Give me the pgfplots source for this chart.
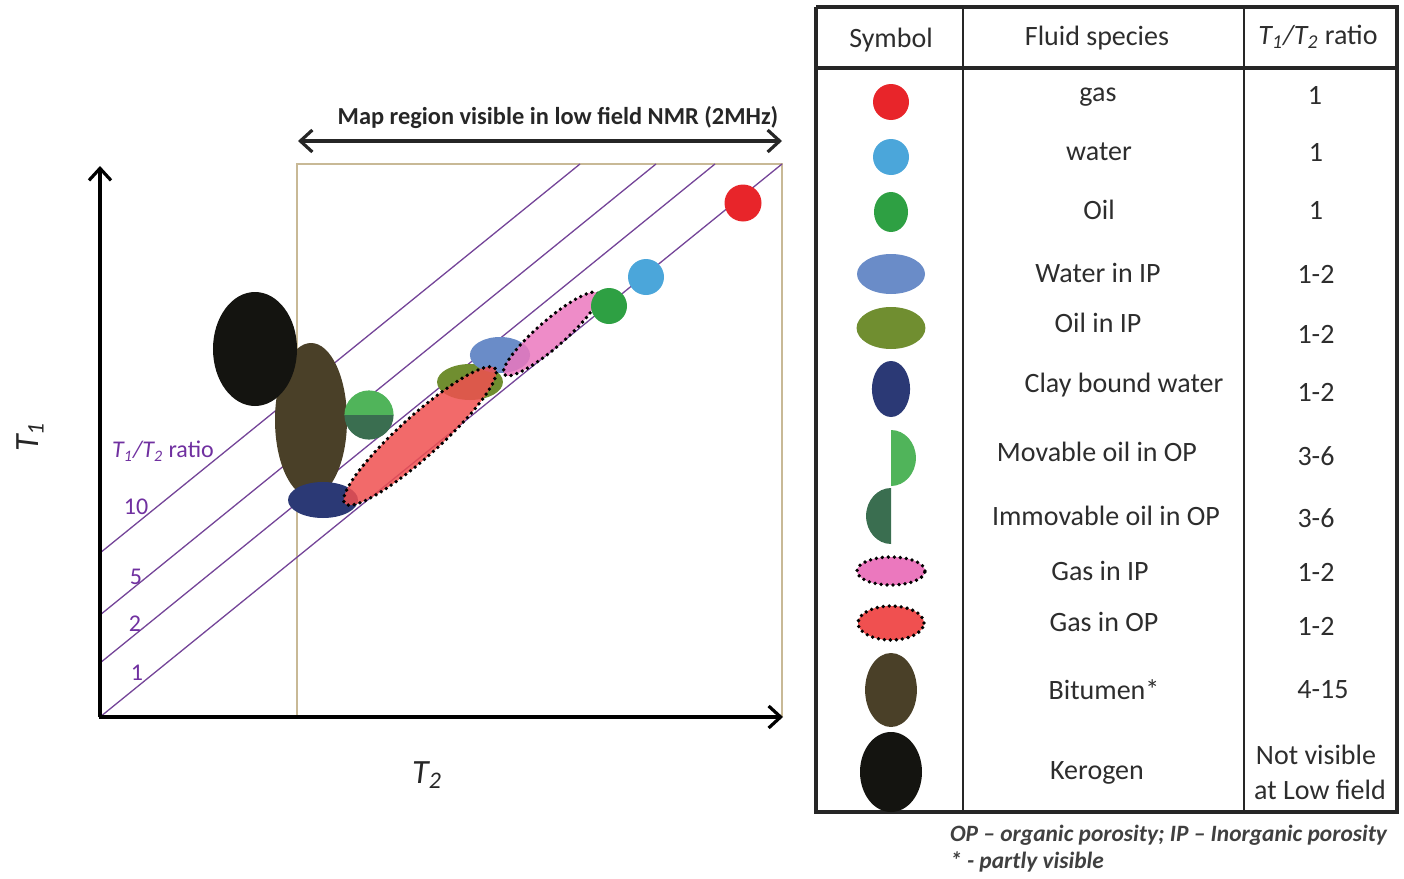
\documentclass[border=0pt]{standalone}
\usepackage{pgfplots}
\pgfplotsset{compat=1.18}
\usepackage{fontspec}
\setmainfont{Carlito}
\usetikzlibrary{arrows.meta}

\definecolor{cgas}{RGB}{232,37,42}
\definecolor{cwater}{RGB}{75,166,218}
\definecolor{coil}{RGB}{46,160,67}
\definecolor{cwip}{RGB}{106,140,200}
\definecolor{coip}{RGB}{112,142,48}
\definecolor{cclay}{RGB}{43,57,117}
\definecolor{cmov}{RGB}{80,180,90}
\definecolor{cimm}{RGB}{58,110,80}
\definecolor{cgip}{RGB}{235,120,190}
\definecolor{cgop}{RGB}{240,80,80}
\definecolor{cbit}{RGB}{74,64,40}
\definecolor{cker}{RGB}{20,20,16}
\definecolor{rpurple}{RGB}{112,48,160}
\definecolor{boxtan}{RGB}{200,185,150}
\definecolor{txt}{RGB}{45,45,45}

\pgfdeclareplotmark{fell}{\pgfpathcircle{\pgfpointorigin}{\pgfplotmarksize}\pgfusepathqfill}
\pgfdeclareplotmark{dell}{\pgfpathcircle{\pgfpointorigin}{\pgfplotmarksize}\pgfusepathqfillstroke}
\pgfdeclareplotmark{halfT}{\pgfpathmoveto{\pgfqpoint{-\pgfplotmarksize}{0pt}}\pgfpatharc{180}{0}{\pgfplotmarksize}\pgfpathclose\pgfusepathqfill}
\pgfdeclareplotmark{halfB}{\pgfpathmoveto{\pgfqpoint{-\pgfplotmarksize}{0pt}}\pgfpatharc{180}{360}{\pgfplotmarksize}\pgfpathclose\pgfusepathqfill}
\pgfdeclareplotmark{halfR}{\pgfpathmoveto{\pgfqpoint{0pt}{-\pgfplotmarksize}}\pgfpatharc{-90}{90}{\pgfplotmarksize}\pgfpathclose\pgfusepathqfill}
\pgfdeclareplotmark{halfL}{\pgfpathmoveto{\pgfqpoint{0pt}{\pgfplotmarksize}}\pgfpatharc{90}{270}{\pgfplotmarksize}\pgfpathclose\pgfusepathqfill}

\newcommand\tf{\fontsize{14}{17}\selectfont}
\tikzset{
  sym/.style n args={5}{only marks, mark=fell, mark size=#3pt,
    mark options={fill=#1, rotate=#5, xscale=#4}},
  dsym/.style n args={5}{only marks, mark=dell, mark size=#3pt,
    mark options={fill=#1, fill opacity=#2, draw=black, line width=1.9pt, line cap=round,
      dash pattern=on 0pt off 3pt, rotate=#5, xscale=#4}},
}

\begin{document}
\begin{tikzpicture}
\begin{axis}[x=0.5pt, y=0.5pt, y dir=reverse,
  xmin=0, xmax=1404, ymin=0, ymax=877,
  hide axis, clip=false, scale only axis]
\path (rel axis cs:0,0) rectangle (rel axis cs:1,1);

% map region box
\addplot[boxtan, line width=0.9pt] coordinates {(297,717) (297,164) (782,164) (782,717)};
% ratio lines
\addplot[rpurple!75!gray, line width=0.65pt] coordinates {(100,717) (782,164)};
\addplot[rpurple!75!gray, line width=0.65pt] coordinates {(100,663) (715,164)};
\addplot[rpurple!75!gray, line width=0.65pt] coordinates {(100,615) (656,164)};
\addplot[rpurple!75!gray, line width=0.65pt] coordinates {(100,553) (580,164)};
% axes
\addplot[black, line width=1.6pt, -{Straight Barb[length=6pt,width=11pt]}] coordinates {(100,717) (100,166)};
\addplot[black, line width=1.6pt, -{Straight Barb[length=6pt,width=11pt]}] coordinates {(99,717) (783,717)};
% top double arrow
\addplot[black!85, line width=1.6pt, {Straight Barb[length=6pt,width=11pt]}-{Straight Barb[length=6pt,width=11pt]}] coordinates {(298,141) (782,141)};

% diagram symbols
\addplot[sym={cbit}{}{38.5}{0.4675}{0}] coordinates {(311,420)};
\addplot[sym={cker}{}{28.5}{0.737}{0}] coordinates {(255,349)};
\addplot[sym={cclay}{}{9}{1.944}{0}] coordinates {(323,500)};
\addplot[only marks, mark=halfT, mark size=12.3pt, mark options={fill=cmov}] coordinates {(369,415)};
\addplot[only marks, mark=halfB, mark size=12.3pt, mark options={fill=cimm}] coordinates {(369,415)};
\addplot[sym={coip}{}{9}{1.83}{0}] coordinates {(470,382)};
\addplot[sym={cwip}{}{9}{1.67}{0}] coordinates {(500,355)};
\addplot[dsym={cgop}{0.85}{10.2}{4.95}{42}] coordinates {(420,436)};
\addplot[dsym={cgip}{0.85}{6.8}{4.55}{41}] coordinates {(551,334)};
\addplot[sym={coil}{}{9}{1}{0}] coordinates {(609,306)};
\addplot[sym={cwater}{}{9}{1}{0}] coordinates {(646,277)};
\addplot[sym={cgas}{}{9.25}{1}{0}] coordinates {(743,203)};

% diagram text
\node[font=\fontsize{12.2}{14}\selectfont\bfseries, text=black!85] at (558,118) {Map region visible in low field NMR (2MHz)};
\node[font=\fontsize{12}{14}\selectfont, text=rpurple] at (163,451) {\itshape T\textsubscript{1}/T\textsubscript{2}\upshape\ ratio};
\node[font=\fontsize{12}{14}\selectfont, text=rpurple] at (136,507) {10};
\node[font=\fontsize{12}{14}\selectfont, text=rpurple] at (136,577) {5};
\node[font=\fontsize{12}{14}\selectfont, text=rpurple] at (135,624) {2};
\node[font=\fontsize{12}{14}\selectfont, text=rpurple] at (137,673) {1};
\node[font=\fontsize{17}{20}\selectfont, text=black!85, rotate=90] at (30,437) {\itshape T\textsubscript{1}};
\node[font=\fontsize{17}{20}\selectfont, text=black!85] at (427,775) {\itshape T\textsubscript{2}};

% table grid
\addplot[black!85, line width=1.6pt] coordinates {(816,7) (1397,7) (1397,812) (816,812) (816,7)};
\addplot[black!85, line width=1.6pt] coordinates {(816,68) (1397,68)};
\addplot[black!85, line width=1pt] coordinates {(963,7) (963,812)};
\addplot[black!85, line width=1pt] coordinates {(1244,7) (1244,812)};

% table symbols
\addplot[sym={cgas}{}{9}{1}{0}] coordinates {(891,102)};
\addplot[sym={cwater}{}{9}{1}{0}] coordinates {(891,157)};
\addplot[sym={coil}{}{10}{0.85}{0}] coordinates {(891,212)};
\addplot[sym={cwip}{}{10}{1.7}{0}] coordinates {(891,274)};
\addplot[sym={coip}{}{10.5}{1.64}{0}] coordinates {(891,328)};
\addplot[sym={cclay}{}{14}{0.68}{0}] coordinates {(891,389)};
\addplot[only marks, mark=halfR, mark size=14pt, mark options={fill=cmov, xscale=0.89}] coordinates {(891,458)};
\addplot[only marks, mark=halfL, mark size=14pt, mark options={fill=cimm, xscale=0.89}] coordinates {(891,516)};
\addplot[dsym={cgip}{1}{7}{2.43}{0}] coordinates {(891,571)};
\addplot[dsym={cgop}{1}{8.5}{1.94}{0}] coordinates {(891,623)};
\addplot[sym={cbit}{}{18.5}{0.70}{0}] coordinates {(891,690)};
\addplot[sym={cker}{}{20}{0.775}{0}] coordinates {(891,772)};

% table text
\node[font=\tf, text=txt] at (891,40) {Symbol};
\node[font=\tf, text=txt] at (1097,38) {Fluid species};
\node[font=\tf, text=txt] at (1318,37) {\itshape T\textsubscript{1}/T\textsubscript{2}\upshape\ ratio};
\node[font=\tf, text=txt] at (1098,97) {gas};
\node[font=\tf, text=txt] at (1099,152) {water};
\node[font=\tf, text=txt] at (1099,210) {Oil};
\node[font=\tf, text=txt] at (1098,273) {Water in IP};
\node[font=\tf, text=txt] at (1098,323) {Oil in IP};
\node[font=\tf, text=txt] at (1124,385) {Clay bound water};
\node[font=\tf, text=txt] at (1097,452) {Movable oil in OP};
\node[font=\tf, text=txt] at (1106,516) {Immovable oil in OP};
\node[font=\tf, text=txt] at (1100,571) {Gas in IP};
\node[font=\tf, text=txt] at (1104,622) {Gas in OP};
\node[font=\tf, text=txt] at (1104,690) {Bitumen*};
\node[font=\tf, text=txt] at (1097,773) {Kerogen};
\node[font=\tf, text=txt] at (1315,95) {1};
\node[font=\tf, text=txt] at (1316,152) {1};
\node[font=\tf, text=txt] at (1316,210) {1};
\node[font=\tf, text=txt] at (1316,274) {1-2};
\node[font=\tf, text=txt] at (1316,334) {1-2};
\node[font=\tf, text=txt] at (1316,392) {1-2};
\node[font=\tf, text=txt] at (1316,456) {3-6};
\node[font=\tf, text=txt] at (1316,518) {3-6};
\node[font=\tf, text=txt] at (1316,572) {1-2};
\node[font=\tf, text=txt] at (1316,626) {1-2};
\node[font=\tf, text=txt] at (1323,690) {4-15};
\node[font=\tf, text=txt] at (1316,755) {Not visible};
\node[font=\tf, text=txt] at (1320,790) {at Low field};

% footnote
\node[font=\fontsize{11.7}{13}\selectfont\bfseries\itshape, text=black!75, anchor=west] at (943,835) {OP -- organic porosity; IP -- Inorganic porosity};
\node[font=\fontsize{11.7}{13}\selectfont\bfseries\itshape, text=black!75, anchor=west] at (943,862) {* - partly visible};
\end{axis}
\end{tikzpicture}
\end{document}
